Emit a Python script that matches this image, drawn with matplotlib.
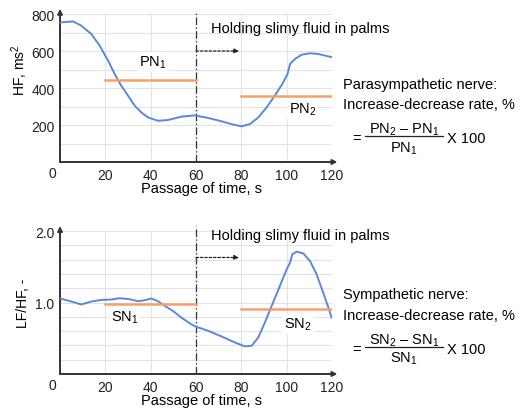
import matplotlib
matplotlib.use("Agg")
import matplotlib.pyplot as plt
from matplotlib.lines import Line2D

plt.rcParams['font.family'] = ['Liberation Sans', 'DejaVu Sans']
plt.rcParams['mathtext.fontset'] = 'custom'
plt.rcParams['mathtext.rm'] = 'Liberation Sans'
plt.rcParams['mathtext.it'] = 'Liberation Sans'
plt.rcParams['font.size'] = 10

# HF curve (top)
hf_t = [0, 0.6, 5.7, 9.4, 13.8, 17.5, 21.2, 24.1, 27.0, 30.0, 32.9, 35.9, 38.8,
        43.2, 47.6, 53.5, 59.5, 65.4, 71.3, 76.5, 80.1, 83.8, 87.5, 91.2, 94.8,
        98.1, 100.4, 101.5, 103.7, 106.6, 110.3, 113.9, 119.1, 120]
hf_v = [752, 755, 760, 737, 692, 629, 548, 476, 413, 359, 305, 268, 241,
        223, 227, 245, 252, 238, 220, 202, 193, 205, 241, 296, 359,
        422, 476, 530, 557, 580, 588, 584, 569, 566]
pn1 = 445
pn2 = 358

# LF/HF curve (bottom)
lf_t = [0, 5.0, 9.4, 13.8, 18.2, 22.6, 26.3, 30.7, 34.4, 37.3, 40.3, 43.2, 46.2,
        49.8, 53.5, 57.2, 59.6, 65.4, 71.3, 77.2, 81.6, 84.6, 87.5, 90.4, 93.4,
        97.0, 100, 101.5, 102.5, 104.4, 107.3, 110.3, 113.2, 116.1, 118.4, 119.8]
lf_v = [1.056, 1.014, 0.972, 1.014, 1.036, 1.042, 1.06, 1.046, 1.018, 1.032, 1.056,
        1.018, 0.953, 0.883, 0.79, 0.71, 0.665, 0.604, 0.525, 0.44, 0.386, 0.395,
        0.512, 0.72, 0.953, 1.23, 1.464, 1.558, 1.674, 1.711, 1.688, 1.58, 1.395,
        1.14, 0.93, 0.79]
sn1 = 0.98
sn2 = 0.91

xticks = [20, 40, 60, 80, 100, 120]

blue = '#5a88db'
orange = '#f5a06c'
axc = '#333333'
gridc = '#e3e3e3'
fs = 10.5

fig = plt.figure(figsize=(5.21, 4.10), dpi=100)
ax1 = fig.add_axes([0.1152, 0.6024, 0.522, 0.361])
ax2 = fig.add_axes([0.1152, 0.0854, 0.522, 0.3487])


def style(ax, ymax, ystep, yticks, ylabels, ylab):
    ax.set_xlim(0, 120)
    ax.set_ylim(0, ymax)
    for s in ax.spines.values():
        s.set_visible(False)
    # grid
    for x in xticks:
        ax.plot([x, x], [0, ymax], color=gridc, lw=0.8, zorder=0)
    y = ystep
    while y <= ymax + 1e-9:
        ax.plot([0, 120], [y, y], color=gridc, lw=0.8, zorder=0)
        y += ystep
    # axes with arrows
    ax.annotate('', xy=(0, 1.035), xytext=(0, 0), xycoords='axes fraction',
                arrowprops=dict(arrowstyle='-|>', color=axc, lw=1.4,
                                mutation_scale=7, shrinkA=0, shrinkB=0),
                annotation_clip=False)
    ax.annotate('', xy=(1.02, 0), xytext=(0, 0), xycoords='axes fraction',
                arrowprops=dict(arrowstyle='-|>', color=axc, lw=1.4,
                                mutation_scale=7, shrinkA=0, shrinkB=0),
                annotation_clip=False)
    ax.set_xticks(xticks)
    ax.set_yticks(yticks)
    ax.set_yticklabels(ylabels)
    ax.tick_params(length=0, pad=4, labelsize=10, colors='#222222')
    ax.text(-0.015, -0.025, '0', transform=ax.transAxes, ha='right', va='top',
            fontsize=10, color='#222222')
    ax.set_xlabel('Passage of time, s', fontsize=fs, labelpad=1)
    ax.xaxis.set_label_coords(0.52, -0.13)
    ax.set_ylabel(ylab, fontsize=10, labelpad=2)


style(ax1, 800, 100, [200, 400, 600, 800], ['200', '400', '600', '800'], 'HF, ms$^2$')
ax1.yaxis.set_label_coords(-0.112, 0.63)
style(ax2, 2.0, 0.2, [1.0, 2.0], ['1.0', '2.0'], 'LF/HF, -')
ax2.yaxis.set_label_coords(-0.112, 0.5)

# top panel
ax1.plot([60, 60], [0, 815], color=axc, lw=0.9, ls=(0, (6, 2, 1, 2)), clip_on=False, zorder=2)
ax1.plot(hf_t, hf_v, color=blue, lw=1.4, zorder=3)
ax1.plot([20, 60], [pn1, pn1], color=orange, lw=1.8, zorder=3)
ax1.plot([80, 120], [pn2, pn2], color=orange, lw=1.8, zorder=3)
ax1.annotate('', xy=(79, 600), xytext=(60, 600),
             arrowprops=dict(arrowstyle='-|>', color='#222222', lw=0.9, ls=(0, (2, 1.5)),
                             mutation_scale=7, shrinkA=0, shrinkB=0))
ax1.text(66.5, 725, 'Holding slimy fluid in palms', fontsize=fs, va='center',
         ha='left', clip_on=False)
ax1.text(41, 540, 'PN$_1$', ha='center', va='center', fontsize=fs,
         bbox=dict(fc='white', ec='none', pad=1.5), zorder=2)
ax1.text(107, 290, 'PN$_2$', ha='center', va='center', fontsize=fs,
         bbox=dict(fc='white', ec='none', pad=1.5), zorder=2)

# bottom panel
ax2.plot([60, 60], [0, 2.07], color=axc, lw=0.9, ls=(0, (6, 2, 1, 2)), clip_on=False, zorder=2)
ax2.plot(lf_t, lf_v, color=blue, lw=1.4, zorder=3)
ax2.plot([20, 60], [sn1, sn1], color=orange, lw=1.8, zorder=3)
ax2.plot([80, 120], [sn2, sn2], color=orange, lw=1.8, zorder=3)
ax2.annotate('', xy=(79, 1.63), xytext=(60, 1.63),
             arrowprops=dict(arrowstyle='-|>', color='#222222', lw=0.9, ls=(0, (2, 1.5)),
                             mutation_scale=7, shrinkA=0, shrinkB=0))
ax2.text(66.5, 1.94, 'Holding slimy fluid in palms', fontsize=fs, va='center',
         ha='left', clip_on=False)
ax2.text(28.5, 0.80, 'SN$_1$', ha='center', va='center', fontsize=fs,
         bbox=dict(fc='white', ec='none', pad=1.5), zorder=2)
ax2.text(105, 0.70, 'SN$_2$', ha='center', va='center', fontsize=fs,
         bbox=dict(fc='white', ec='none', pad=1.5), zorder=2)


def fy(py):
    return 1 - py / 410.0


def fx(px):
    return px / 521.0


def formula(title, num, den, y1, y2, ynum, yline, yden, yeq):
    fig.text(fx(343), fy(y1), title, fontsize=fs, va='center', ha='left')
    fig.text(fx(343), fy(y2), 'Increase-decrease rate, %', fontsize=fs, va='center', ha='left')
    fig.text(fx(352), fy(yeq), '=', fontsize=fs, va='center', ha='left')
    fig.text(fx(404), fy(ynum), num, fontsize=fs, va='center', ha='center')
    fig.text(fx(404), fy(yden), den, fontsize=fs, va='center', ha='center')
    fig.add_artist(Line2D([fx(365), fx(443)], [fy(yline), fy(yline)], color='#222222', lw=0.9))
    fig.text(fx(447), fy(yeq), 'X 100', fontsize=fs, va='center', ha='left')


formula('Parasympathetic nerve:', 'PN$_2$ – PN$_1$', 'PN$_1$', 85, 105, 130, 137, 149, 139)
formula('Sympathetic nerve:', 'SN$_2$ – SN$_1$', 'SN$_1$', 295, 316, 341, 348, 359, 350)

fig.savefig('out.png', dpi=100)
